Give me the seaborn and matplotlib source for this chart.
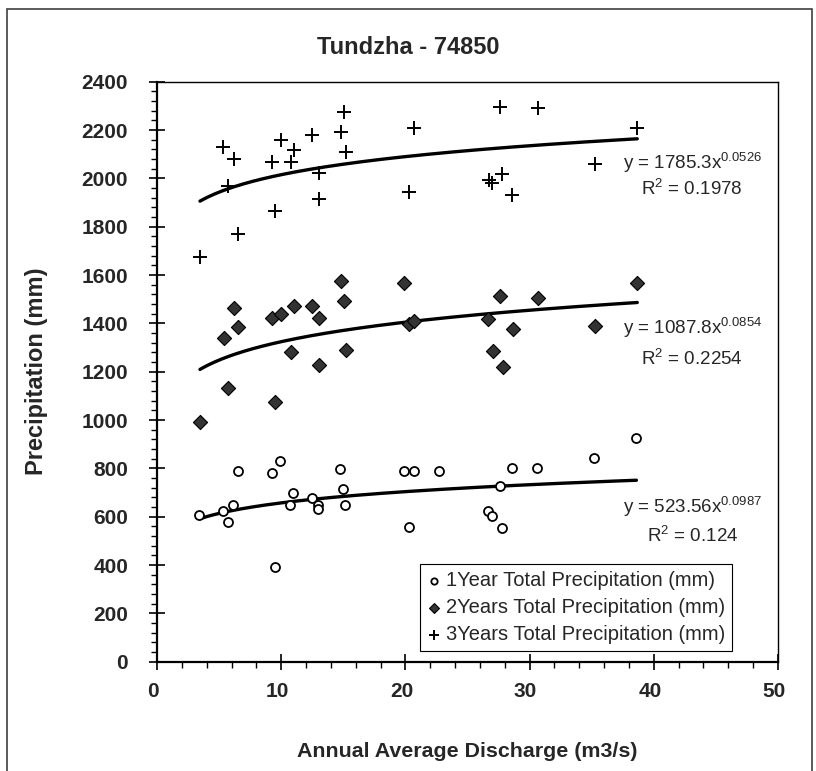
import matplotlib
matplotlib.use("Agg")
import matplotlib.pyplot as plt
import matplotlib.transforms as mtransforms
import seaborn as sns
import numpy as np
import pandas as pd
from matplotlib.ticker import MultipleLocator
from matplotlib.patches import Rectangle

# ---------------- data ----------------
q1 = [3.41, 5.28, 5.69, 6.14, 6.49, 9.22, 9.49, 9.90, 10.70, 10.96, 12.44, 12.98, 12.98,
      14.72, 15.00, 15.13, 19.90, 20.30, 20.70, 22.70, 26.65, 27.00, 27.60, 27.80, 28.60,
      30.60, 35.20, 38.60]
p1 = [607, 623, 579, 648, 789, 782, 393, 830, 648, 699, 676, 648, 632,
      796, 713, 648, 789, 559, 789, 789, 625, 603, 727, 554, 803,
      803, 844, 927]

q2 = [3.46, 5.39, 5.74, 6.19, 6.54, 9.28, 9.49, 9.95, 10.75, 11.02, 12.50, 13.06, 13.06,
      14.80, 15.07, 15.20, 19.90, 20.30, 20.70, 26.65, 27.06, 27.60, 27.87, 28.67,
      30.70, 35.30, 38.67]
p2 = [990, 1338, 1131, 1462, 1386, 1423, 1076, 1437, 1283, 1472, 1472, 1423, 1228,
      1575, 1492, 1290, 1568, 1396, 1410, 1417, 1287, 1513, 1221, 1375,
      1506, 1389, 1568]

q3 = [3.46, 5.33, 5.74, 6.19, 6.54, 9.28, 9.49, 9.95, 10.75, 11.02, 12.50, 13.06, 13.06,
      14.80, 15.07, 15.20, 20.30, 20.70, 26.70, 27.00, 27.60, 27.80, 28.60,
      30.70, 35.30, 38.67]
p3 = [1676, 2131, 1968, 2080, 1770, 2069, 1865, 2158, 2069, 2117, 2178, 2021, 1914,
      2193, 2276, 2110, 1942, 2207, 1993, 1979, 2296, 2018, 1931,
      2290, 2058, 2209]

series_labels = ["1Year Total Precipitation (mm)",
                 "2Years Total Precipitation (mm)",
                 "3Years Total Precipitation (mm)"]
fit_a = [523.56, 1087.8, 1785.3]
fit_b = [0.0987, 0.0854, 0.0526]
fit_r2 = ["0.124", "0.2254", "0.1978"]
fit_a_txt = ["523.56", "1087.8", "1785.3"]
fit_b_txt = ["0.0987", "0.0854", "0.0526"]
eq_pos_y = [640, 1381, 2067]
r2_pos_y = [520, 1256, 1959]

title = "Tundzha - 74850"
xlabel = "Annual Average Discharge (m3/s)"
ylabel = "Precipitation (mm)"

# ---------------- style ----------------
sns.set_style("white")
plt.rcParams["font.family"] = ["Liberation Sans", "DejaVu Sans"]
plt.rcParams["mathtext.fontset"] = "custom"
plt.rcParams["mathtext.rm"] = "Liberation Sans"

W, H = 816, 771
fig = plt.figure(figsize=(W / 100, H / 100), dpi=100)
ax = fig.add_axes([157 / W, (H - 661.7) / H, 621 / W, 580 / H])

# outer border
fig.patches.append(Rectangle((7 / W, -0.05), (812 - 7) / W, 1.05 - 9 / H,
                             transform=fig.transFigure, fill=False,
                             edgecolor="#404040", linewidth=1.2, zorder=0))

df1 = pd.DataFrame({"q": q1, "p": p1})
df2 = pd.DataFrame({"q": q2, "p": p2})
df3 = pd.DataFrame({"q": q3, "p": p3})

sns.scatterplot(data=df1, x="q", y="p", ax=ax, marker="o", s=42,
                facecolor="white", edgecolor="black", linewidth=1.3,
                label=series_labels[0], zorder=3)
sns.scatterplot(data=df2, x="q", y="p", ax=ax, marker="D", s=52,
                facecolor="#333333", edgecolor="black", linewidth=0.8,
                label=series_labels[1], zorder=3)
sns.scatterplot(data=df3, x="q", y="p", ax=ax, marker="+", s=95,
                color="black", linewidth=1.4,
                label=series_labels[2], zorder=3)

# power trend lines
for qs, a, b in zip([q1, q2, q3], fit_a, fit_b):
    xs = np.linspace(min(qs), max(qs), 200)
    tdf = pd.DataFrame({"q": xs, "p": a * xs ** b})
    sns.lineplot(data=tdf, x="q", y="p", ax=ax, color="black", linewidth=2.4,
                 legend=False, zorder=2)

for i in range(3):
    ax.text(43.1, eq_pos_y[i],
            "y = " + fit_a_txt[i] + "x$^{\\mathregular{" + fit_b_txt[i] + "}}$",
            ha="center", va="center", fontsize=13.5)
    ax.text(43.1, r2_pos_y[i],
            "R$^{\\mathregular{2}}$ = " + fit_r2[i],
            ha="center", va="center", fontsize=13.5)

ax.set_xlim(0, 50)
ax.set_ylim(0, 2400)
ax.xaxis.set_major_locator(MultipleLocator(10))
ax.xaxis.set_minor_locator(MultipleLocator(2))
ax.yaxis.set_major_locator(MultipleLocator(200))
ax.yaxis.set_minor_locator(MultipleLocator(40))

ax.tick_params(which="major", direction="inout", length=11.5, width=1.2,
               color="black", labelsize=15)
ax.tick_params(axis="y", which="major", pad=15)
ax.tick_params(axis="x", which="major", pad=9)
ax.tick_params(which="minor", direction="out", length=4.3, width=1.0,
               color="black")
ax.tick_params(bottom=True, left=True, which="both")
shift = mtransforms.ScaledTranslation(-4 / 100, 0, fig.dpi_scale_trans)
for lab in ax.get_xticklabels():
    lab.set_fontweight("bold")
    lab.set_transform(lab.get_transform() + shift)
for lab in ax.get_yticklabels():
    lab.set_fontweight("bold")

for side in ["left", "bottom"]:
    ax.spines[side].set_linewidth(1.6)
    ax.spines[side].set_color("black")
for side in ["top", "right"]:
    ax.spines[side].set_linewidth(1.0)
    ax.spines[side].set_color("black")

ax.set_xlabel(xlabel, fontsize=15.4, fontweight="bold")
ax.set_ylabel(ylabel, fontsize=17, fontweight="bold")
ax.xaxis.set_label_coords(0.5, -0.138)
ax.yaxis.set_label_coords(-0.176, 0.5)

fig.text(0.5, 1 - 47 / H, title, ha="center", va="center",
         fontsize=17, fontweight="bold")

leg = ax.legend(loc="lower left", bbox_to_anchor=(0.4235, 0.0184),
                fontsize=14.5, frameon=True, fancybox=False, shadow=False,
                handlelength=0.7, handletextpad=0.25, borderpad=0.35,
                labelspacing=0.4, borderaxespad=0, markerscale=0.7)
leg.get_frame().set_edgecolor("black")
leg.get_frame().set_linewidth(0.8)
leg.get_frame().set_facecolor("white")
leg.get_frame().set_alpha(1)

fig.savefig("out.png", dpi=100)
